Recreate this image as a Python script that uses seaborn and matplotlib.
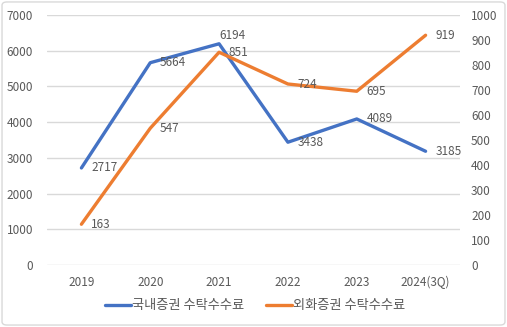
import matplotlib
matplotlib.use("Agg")
import matplotlib.pyplot as plt
import seaborn as sns
import pandas as pd
from matplotlib.patches import FancyBboxPatch

categories = ["2019", "2020", "2021", "2022", "2023", "2024(3Q)"]
domestic = [2717, 5664, 6194, 3438, 4089, 3185]
foreign = [163, 547, 851, 724, 695, 919]
name_dom = "국내증권 수탁수수료"
name_for = "외화증권 수탁수수료"
left_ticks = [0, 1000, 2000, 3000, 4000, 5000, 6000, 7000]
right_ticks = [0, 100, 200, 300, 400, 500, 600, 700, 800, 900, 1000]

sns.set_theme(style="white")
plt.rcParams["font.family"] = ["Noto Sans CJK KR", "DejaVu Sans"]

BLUE = "#4472C4"
ORANGE = "#ED7D31"
TXT = "#595959"

df = pd.DataFrame({"year": categories, "dom": domestic, "for": foreign})

fig = plt.figure(figsize=(5.07, 3.27), dpi=100)
ax = fig.add_axes([47 / 507, 62 / 327, 413 / 507, 250 / 327])
ax2 = ax.twinx()

sns.lineplot(data=df, x="year", y="dom", ax=ax, color=BLUE, lw=2.4, sort=False,
             label=name_dom, legend=False)
sns.lineplot(data=df, x="year", y="for", ax=ax2, color=ORANGE, lw=2.4, sort=False,
             label=name_for, legend=False)

ax.set_xlim(-0.5, len(categories) - 0.5)
ax.set_ylim(0, 7000)
ax2.set_ylim(0, 1000)
ax.set_yticks(left_ticks)
ax2.set_yticks(right_ticks)
ax.set_xlabel("")
ax.set_ylabel("")
ax2.set_ylabel("")
ax.grid(axis="y", color="#D9D9D9", lw=1)
ax.set_axisbelow(True)
for a in (ax, ax2):
    for s in a.spines.values():
        s.set_visible(False)
ax.tick_params(axis="y", length=0, pad=10, labelsize=8.5, labelcolor=TXT)
ax.tick_params(axis="x", length=0, pad=8, labelsize=8.5, labelcolor=TXT)
ax2.tick_params(axis="y", length=0, pad=8, labelsize=8.5, labelcolor=TXT)

for i, v in enumerate(domestic):
    off = (0, 6) if i == 2 else (7, 0)
    ax.annotate(str(v), (i, v), xytext=off, textcoords="offset points",
                va="center", ha="left", fontsize=8.5, color=TXT)
for i, v in enumerate(foreign):
    ax2.annotate(str(v), (i, v), xytext=(7, 0), textcoords="offset points",
                 va="center", ha="left", fontsize=8.5, color=TXT)

h1, l1 = ax.get_legend_handles_labels()
h2, l2 = ax2.get_legend_handles_labels()
fig.legend(h1 + h2, l1 + l2, loc="center", bbox_to_anchor=(255 / 507, 1 - 306 / 327),
           ncol=2, frameon=False, fontsize=9.5, labelcolor=TXT, handlelength=2.0,
           handletextpad=0.1, columnspacing=1.6)

border = FancyBboxPatch((0.004, 0.006), 0.992, 0.988, boxstyle="round,pad=0,rounding_size=0.01",
                        transform=fig.transFigure, fill=False, edgecolor="#D9D9D9", lw=1)
fig.patches.append(border)

fig.savefig("out.png", dpi=100)
